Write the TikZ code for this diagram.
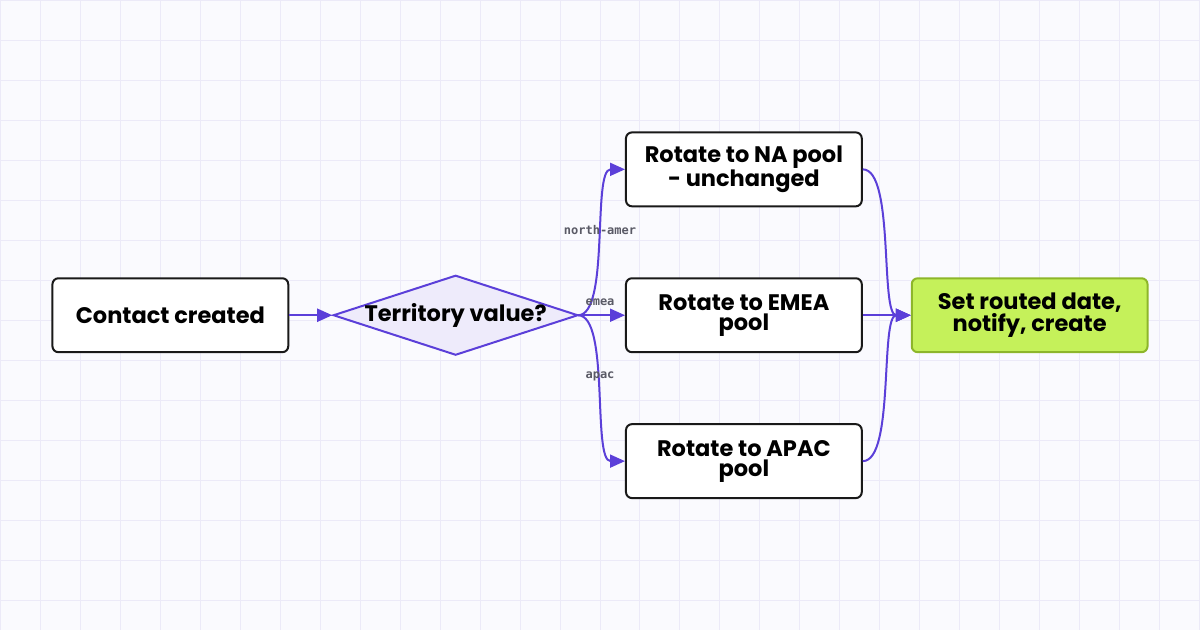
\documentclass[tikz,border=0pt]{standalone}
\usepackage{fontspec}
\setmainfont{Poppins}
\newfontfamily\monof{DejaVu Sans Mono}
\usetikzlibrary{arrows.meta,shapes.geometric}
\definecolor{bg}{HTML}{FAFAFE}
\definecolor{gridc}{HTML}{ECEAF8}
\definecolor{edge}{HTML}{5B3FD9}
\definecolor{dfill}{HTML}{EEEBFB}
\definecolor{gfill}{HTML}{C5F15A}
\definecolor{gline}{HTML}{8DB62A}
\definecolor{lab}{HTML}{5A5A66}
\begin{document}
\begin{tikzpicture}[x=1pt,y=-1pt,
  box/.style={draw=black!90,line width=2pt,rounded corners=6pt,fill=white,minimum width=236pt,minimum height=74pt,inner sep=0pt,align=center,font=\fontsize{22.5}{20}\selectfont\bfseries},
  conn/.style={draw=edge,line width=2pt,-{Triangle[length=15pt,width=13pt]}},
  lbl/.style={font=\monof\fontsize{12}{13}\selectfont\bfseries,text=lab,inner sep=1pt}]
\fill[bg] (0,0) rectangle (1200,630);
\foreach \x in {0,40,...,1200} \draw[gridc,line width=1pt] (\x,0) -- (\x,630);
\foreach \y in {0,40,...,620} \draw[gridc,line width=1pt] (0,\y) -- (1200,\y);
\useasboundingbox (0,0) rectangle (1200,630);
\node[box] (c) at (170,315) {Contact created};
\node[diamond,draw=edge,fill=dfill,line width=2pt,minimum width=245pt,minimum height=80pt,aspect=3.06,inner sep=0pt] (d) at (455.5,315) {};
\node[font=\fontsize{22.5}{20}\selectfont\bfseries,inner sep=0pt] (dt) at (d.center) {Territory value?};
\node[box] (na) at (744,169) {Rotate to NA pool\\- unchanged};
\node[box] (em) at (744,315) {Rotate to EMEA\\pool};
\node[box] (ap) at (744,461) {Rotate to APAC\\pool};
\node[box,draw=gline,fill=gfill] (g) at (1030,315) {Set routed date,\\notify, create};
\coordinate (dr) at (578,315);
\draw[conn] (c.east) -- (d.west);
\draw[conn] (dr) .. controls (610,315) and (592,169) .. (na.west);
\draw[conn] (dr) -- (em.west);
\draw[conn] (dr) .. controls (610,315) and (592,461) .. (ap.west);
\draw[conn] (na.east) .. controls (895,169) and (880,315) .. (g.west);
\draw[conn] (em.east) -- (g.west);
\draw[conn] (ap.east) .. controls (895,461) and (880,315) .. (g.west);
\node[lbl] (l1) at (600,230) {north-amer};
\node[lbl] (l2) at (600,302) {emea};
\node[lbl] (l3) at (600,376) {apac};
\end{tikzpicture}
\end{document}
